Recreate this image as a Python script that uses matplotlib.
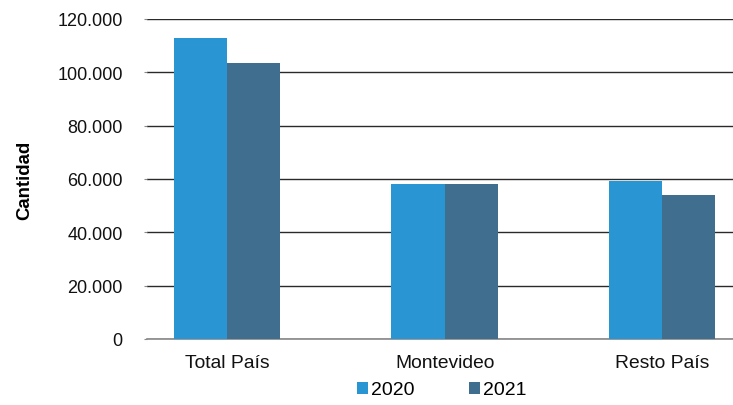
import matplotlib.pyplot as plt
import matplotlib.ticker as ticker
import numpy as np

plt.rcParams.update({
    'font.family': ['Liberation Sans', 'DejaVu Sans'],
    'font.size': 12,
})

categories = ['Total País', 'Montevideo', 'Resto País']
years = ['2020', '2021']
values_2020 = [112900, 58000, 59200]
values_2021 = [103500, 58000, 54000]
colors = ['#2995D3', '#3F6E8F']

fig = plt.figure(figsize=(7.33, 4.06), dpi=100)
ax = fig.add_axes([147 / 733, 1 - 340 / 406, (733 - 147) / 733, 320 / 406])

x = np.arange(len(categories))
w = 0.244
ax.bar(x - w / 2, values_2020, w, color=colors[0], label=years[0], zorder=3)
ax.bar(x + w / 2, values_2021, w, color=colors[1], label=years[1], zorder=3)

ax.set_xlim(-0.368, 2.326)
ax.set_ylim(0, 120000)
ax.yaxis.set_major_locator(ticker.MultipleLocator(20000))
ax.yaxis.set_major_formatter(ticker.FuncFormatter(
    lambda v, p: '0' if v == 0 else '{:,.0f}'.format(v).replace(',', '.')))
ax.grid(axis='y', color='#2a2a2a', linewidth=1, zorder=0)
ax.set_xticks(x)
ax.set_xticklabels(categories, fontsize=13.9)

for s in ['top', 'right', 'left']:
    ax.spines[s].set_visible(False)
ax.spines['bottom'].set_color('#888888')
ax.spines['bottom'].set_linewidth(1.2)
ax.tick_params(axis='x', length=0, pad=11, colors='#111111')
ax.tick_params(axis='y', length=2.5, width=0.8, color='#888888', pad=15,
               labelsize=13, colors='#111111')

ax.set_ylabel('Cantidad', fontweight='bold', fontsize=13.4, labelpad=17)

leg = fig.legend(loc='center', bbox_to_anchor=(441.5 / 733, 1 - 391 / 406), ncol=2,
                 frameon=False, handlelength=0.57, handleheight=0.57, handletextpad=0.15,
                 columnspacing=2.8, fontsize=14)

plt.savefig('out.png', dpi=100)
plt.close()
